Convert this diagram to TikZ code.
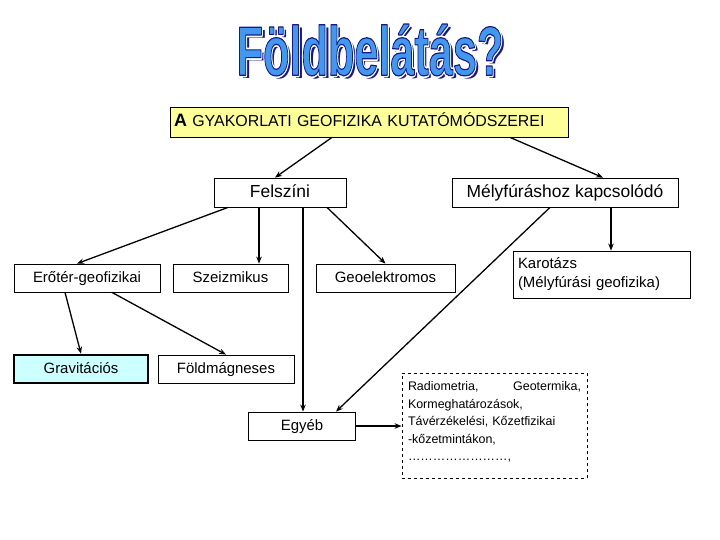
\documentclass[tikz,border=0pt]{standalone}
\usepackage{fontspec}
\setmainfont{Liberation Sans}
\usetikzlibrary{arrows.meta}
\definecolor{headeryellow}{RGB}{255, 255, 153}
\definecolor{gravcyan}{RGB}{204, 255, 255}
\definecolor{wordfill}{RGB}{64, 153, 238}
\definecolor{wordedge}{RGB}{24, 24, 140}
% word art: #1 = pdf text render settings
\newcommand{\wordtitle}[1]{\scalebox{0.62}[1]{\special{pdf:literal direct #1}Földbelátás?\special{pdf:literal direct 0 Tr}}}

\begin{document}
\begin{tikzpicture}[
    x=1bp, y=-1bp,
    >={Stealth[length=7bp, width=5.5bp]},
    box/.style={draw, line width=0.8bp, minimum height=28bp, inner sep=2bp,
                text height=11bp, text depth=2bp, font=\fontsize{15}{18}\selectfont},
    headbox/.style={box, minimum height=29bp, text height=12.5bp, text depth=2.5bp,
                    font=\fontsize{17.5}{20}\selectfont},
    listbox/.style={draw, line width=0.8bp, inner sep=2bp, align=left},
    arr/.style={->, line width=1.3bp},
    word/.style={font=\fontsize{70}{70}\selectfont\bfseries, inner sep=0pt},
]
\useasboundingbox (0,0) rectangle (720,540);

% --- Title (word art) ---
\node[word, text=wordedge] at (373.5,53) {\wordtitle{1 j}};
\node[word, text=white] at (370,50) {\wordtitle{1 Tr 4.5 w 1 j 1 1 1 RG}};
\node[word, text=wordfill] (title) at (370,50)
     {\wordtitle{2 Tr 1.2 w 1 j 0.094 0.094 0.55 RG}};

% --- Header ---
\node[listbox, fill=headeryellow, minimum height=30bp, text width=390bp, inner xsep=4bp,
      text height=12bp, text depth=2.5bp, font=\fontsize{16}{18}\selectfont] (methods) at (369,122)
      {{\fontsize{18}{18}\selectfont\bfseries A} GYAKORLATI GEOFIZIKA KUTATÓMÓDSZEREI};

% --- Main branches ---
\node[headbox, minimum width=132bp] (surface) at (280,192.5) {Felszíni};
\node[headbox, minimum width=226bp] (borehole) at (565,192.5) {Mélyfúráshoz kapcsolódó};

% --- Surface methods ---
\node[box, minimum width=146bp] (potential) at (87,278) {Erőtér-geofizikai};
\node[box, minimum width=115bp] (seismic) at (230.5,278) {Szeizmikus};
\node[box, minimum width=139bp] (geoel) at (385.5,278) {Geoelektromos};
\node[listbox, minimum width=177bp, minimum height=47bp, text width=167bp, inner xsep=5bp,
      font=\fontsize{15}{19}\selectfont] (logging) at (601.5,274.5)
      {Karotázs\\(Mélyfúrási geofizika)};

\node[box, minimum width=134bp, fill=gravcyan, line width=2.6bp] (gravity) at (81,369) {Gravitációs};
\node[box, minimum width=136bp] (magnetic) at (226,369) {Földmágneses};
\node[box, minimum width=107bp] (other) at (302,426) {Egyéb};

% --- Other methods list ---
\node[listbox, dashed, minimum height=105bp, text width=173bp, inner xsep=6bp, inner ysep=0bp,
      font=\fontsize{12.5}{17.5}\selectfont] (otherlist) at (494.5,425.5)
      {Radiometria,\hfill Geotermika,\\Kormeghatározások,\\Távérzékelési, Kőzetfizikai\\
       -kőzetmintákon,\\……………………,\\[-9bp]\mbox{}};

% ---- Arrows ----
\draw[arr] ([xshift=-37bp]methods.south) -- ([xshift=-5bp]surface.north);
\draw[arr] ([xshift=141bp]methods.south) -- ([xshift=38bp]borehole.north);
\draw[arr] ([xshift=-52bp]surface.south) -- ([xshift=-10bp]potential.north);
\draw[arr] ([xshift=-21bp]surface.south) -- ([xshift=-21bp]surface.south |- seismic.north);
\draw[arr] ([xshift=47bp]surface.south) -- (geoel.north);
\draw[arr] ([xshift=23bp]surface.south) -- ([xshift=23bp]surface.south |- other.north);
\draw[arr] ([xshift=-22bp]potential.south) -- (gravity.north);
\draw[arr] ([xshift=25bp]potential.south) -- (magnetic.north);
\draw[arr] ([xshift=-15bp]borehole.south) -- ([xshift=34bp]other.north);
\draw[arr] ([xshift=46bp]borehole.south) -- ([xshift=46bp]borehole.south |- logging.north);
\draw[arr] (other.east) -- (otherlist.west |- other.east);

\end{tikzpicture}
\end{document}
